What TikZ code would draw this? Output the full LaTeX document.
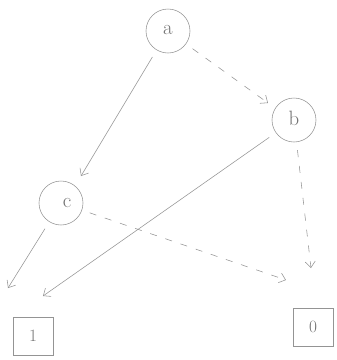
\documentclass[tikz,border=0pt]{standalone}
\usetikzlibrary{arrows.meta}
\begin{document}
\begin{tikzpicture}[x=1pt,y=-1pt,
  pencil/.style={draw=black!42, line width=0.55pt},
  inode/.style={pencil, circle, minimum size=44pt, inner sep=0pt, text=black!55, font=\huge},
  term/.style={pencil, rectangle, minimum width=40pt, minimum height=38pt, inner sep=0pt, text=black!55, font=\LARGE},
  hi/.style={pencil, -{Straight Barb[length=6pt,width=10pt]}, shorten <=8pt},
  lo/.style={hi, dash pattern=on 7pt off 9pt}]
\useasboundingbox[fill=white] (0,0) rectangle (337,360);
\node[inode] (a) at (168,31) {\raisebox{3pt}{a}};
\node[inode] (b) at (294,120) {\raisebox{3pt}{b}};
\node[inode] (c) at (61,203) {\hspace{12pt}c};
\node[term] (t1) at (33,336) {1};
\node[term] (t0) at (313,327) {0};
\coordinate (ac) at (81,176);
\coordinate (ab) at (268,103);
\coordinate (b1) at (43,296);
\coordinate (b0) at (311,268);
\coordinate (c1) at (8,288);
\coordinate (c0) at (286,280);
\draw[hi] (a) -- (ac);
\draw[lo] (a) -- (ab);
\draw[hi] (b) -- (b1);
\draw[lo] (b) -- (b0);
\draw[hi] (c) -- (c1);
\draw[lo] (c) -- (c0);
\end{tikzpicture}
\end{document}
